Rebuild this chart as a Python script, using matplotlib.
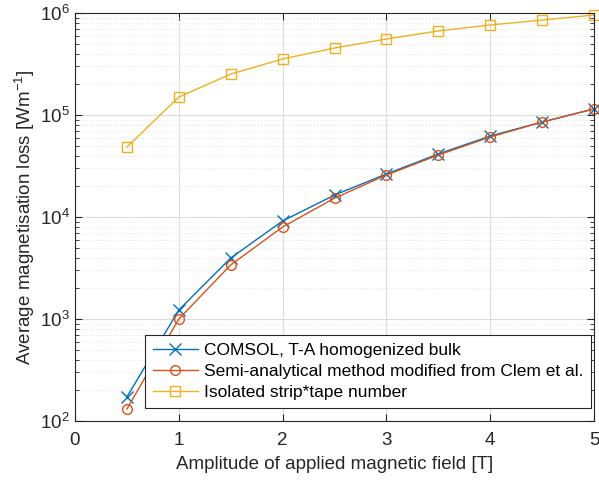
import matplotlib
matplotlib.use('Agg')
import matplotlib.pyplot as plt

plt.rcParams['font.family'] = ['Liberation Sans', 'DejaVu Sans']
plt.rcParams['mathtext.fontset'] = 'custom'
plt.rcParams['mathtext.rm'] = 'Liberation Sans'

# 磁场幅值
field = [0.5, 1, 1.5, 2, 2.5, 3, 3.5, 4, 4.5, 5]
# COMSOL 结果
comsol = [172, 1225, 3960, 9140, 16400, 26400, 41500, 62200, 85300, 114600]
# 半解析方法
semi = [131, 1000, 3390, 7980, 15300, 25800, 40500, 60800, 85300, 115000]
# 孤立带 * 带数
isolated = [48500, 150000, 252000, 354000, 454000, 556000, 667000, 763000, 853000, 955000]

labels = ['COMSOL, T-A homogenized bulk',
          'Semi-analytical method modified from Clem et al.',
          'Isolated strip*tape number']

fig = plt.figure(figsize=(5.99, 4.83), dpi=100)
ax = fig.add_axes([75 / 599, 62 / 483, 519 / 599, 408 / 483])

ax.plot(field, comsol, color='#0072BD', marker='x', markersize=9, linewidth=1, label=labels[0], clip_on=False)
ax.plot(field, semi, color='#D95319', marker='o', markersize=7, markerfacecolor='none', linewidth=1, label=labels[1], clip_on=False)
ax.plot(field, isolated, color='#EDB120', marker='s', markersize=6.5, markerfacecolor='none', linewidth=1, label=labels[2], clip_on=False)

ax.set_yscale('log')
ax.set_xlim(0, 5)
ax.set_ylim(1e2, 1e6)
ax.set_xticks([0, 1, 2, 3, 4, 5])

ax.grid(True, which='major', color='#dcdcdc', linestyle='-', linewidth=0.8)
ax.grid(True, which='minor', color='#e6e6e6', linestyle=':', linewidth=0.8)
ax.set_axisbelow(True)
ax.tick_params(which='both', direction='in', top=True, right=True, labelsize=13.5, colors='#262626')
ax.tick_params(which='major', length=5)
ax.tick_params(which='minor', length=3)
ax.tick_params(axis='x', pad=8)
for s in ax.spines.values():
    s.set_color('#262626')

ax.set_xlabel('Amplitude of applied magnetic field [T]', fontsize=13.5, color='#262626', labelpad=5)
ax.set_ylabel('Average magnetisation loss [Wm$^{-1}$]', fontsize=13.5, color='#262626', labelpad=2)

leg = ax.legend(loc='lower left', bbox_to_anchor=(0.135, 0.032), fontsize=12.5,
                fancybox=False, framealpha=1, edgecolor='#262626',
                borderaxespad=0, handlelength=2.6, handletextpad=0.35,
                borderpad=0.45, labelspacing=0.35)
leg.get_frame().set_linewidth(0.8)
leg.set_zorder(5)

fig.savefig('out.png', dpi=100)
